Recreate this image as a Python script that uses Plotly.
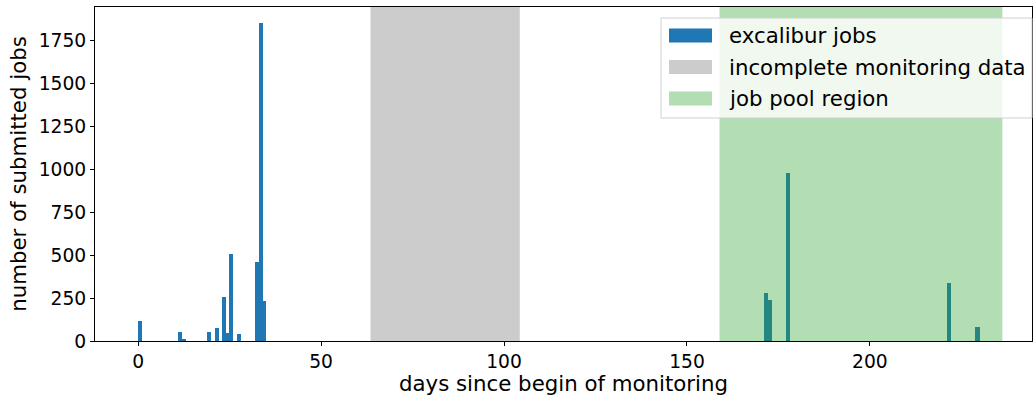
import plotly.graph_objects as go

# ---- data ----
day_centers = [0.42, 11.35, 12.5, 19.3, 21.5, 23.4, 24.4, 25.3, 27.5, 32.4, 33.5, 34.5,
               171.5, 172.6, 177.5, 221.5, 229.4]
job_counts = [117, 53, 12, 53, 76, 257, 47, 509, 41, 462, 1855, 234,
              281, 240, 977, 339, 82]
incomplete_region = [63.5, 104.3]
job_pool_region = [158.9, 236.2]
legend_labels = ["excalibur jobs", "incomplete monitoring data", "job pool region"]
x_ticks = [0, 50, 100, 150, 200]
y_ticks = [0, 250, 500, 750, 1000, 1250, 1500, 1750]

BLUE = "#1f77b4"
GRAY = "#cccccc"
GREEN = "#2ca02c"
FONT = "DejaVu Sans"

W, H = 1035, 396
L, R, T, B = 95, 1032, 7, 341  # plot area in pixels

fig = go.Figure()
fig.add_trace(go.Bar(x=day_centers, y=job_counts, width=1.1,
                     marker=dict(color=BLUE, line=dict(width=0)),
                     showlegend=False))

# gray region (below bars)
fig.add_shape(type="rect", xref="x", yref="paper", x0=incomplete_region[0], x1=incomplete_region[1],
              y0=0, y1=1, fillcolor=GRAY, line=dict(width=0), layer="below")
# green region (translucent, above bars)
fig.add_shape(type="rect", xref="x", yref="paper", x0=job_pool_region[0], x1=job_pool_region[1],
              y0=0, y1=1, fillcolor=GREEN, opacity=0.36, line=dict(width=0), layer="above")

# manual legend (paper coords relative to plot area)
def px(x):
    return (x - L) / (R - L)
def py(y):
    return (B - y) / (B - T)

fig.add_shape(type="rect", xref="paper", yref="paper", x0=px(661), x1=px(1032),
              y0=py(118), y1=py(18),
              fillcolor="rgba(255,255,255,0.8)", line=dict(color="#d0d0d0", width=1), layer="above")
patch_colors = [BLUE, GRAY, "rgba(44,160,44,0.36)"]
row_y = [35.5, 67, 98.5]
for lab, col, yc in zip(legend_labels, patch_colors, row_y):
    fig.add_shape(type="rect", xref="paper", yref="paper", x0=px(669), x1=px(712),
                  y0=py(yc + 7), y1=py(yc - 7), fillcolor=col, line=dict(width=0), layer="above")
    fig.add_annotation(xref="paper", yref="paper", x=px(727), y=py(yc), text=lab,
                       showarrow=False, xanchor="left", yanchor="middle",
                       font=dict(family=FONT, size=21.3, color="#000000"))

fig.update_layout(
    width=W, height=H,
    margin=dict(l=L, r=W - R, t=T, b=H - B),
    plot_bgcolor="white", paper_bgcolor="white",
    bargap=0,
    font=dict(family=FONT, size=18.7, color="#000000"),
    xaxis=dict(range=[-11.8, 244.3], tickvals=x_ticks, ticks="outside", ticklen=4,
               tickcolor="#000", showline=True, linecolor="#000", linewidth=1, mirror=True,
               showgrid=False, zeroline=False,
               title=dict(text="days since begin of monitoring", font=dict(size=21.3), standoff=4)),
    yaxis=dict(range=[0, 1948], tickvals=y_ticks, ticks="outside", ticklen=4,
               tickcolor="#000", showline=True, linecolor="#000", linewidth=1, mirror=True,
               showgrid=False, zeroline=False,
               title=dict(text="number of submitted jobs", font=dict(size=21.3), standoff=6)),
)

fig.write_html("out.html")
